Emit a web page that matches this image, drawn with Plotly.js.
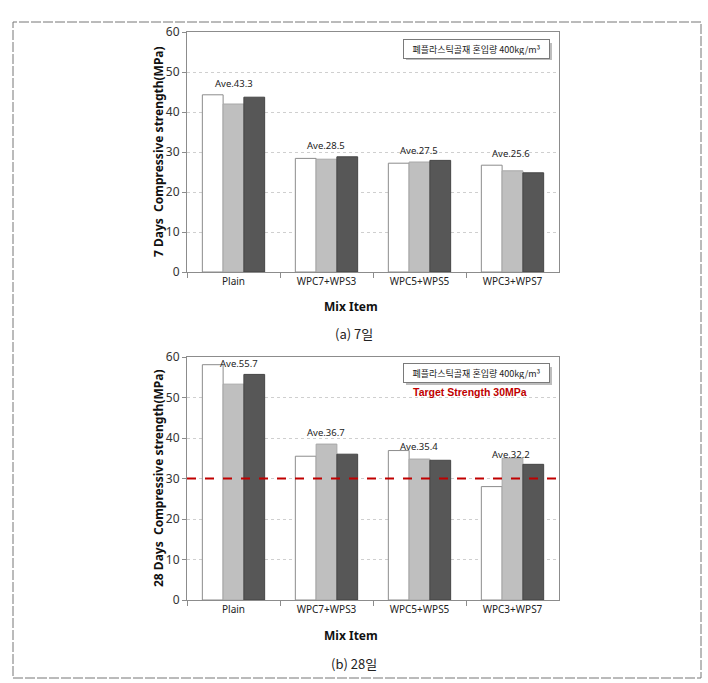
<!DOCTYPE html>
<html>
<head>
<meta charset="utf-8">
<script src="https://cdn.plot.ly/plotly-3.0.1.min.js"></script>
<style>html,body{margin:0;padding:0;background:#fff;}#chart{width:708px;height:683px;}</style>
</head>
<body>
<div id="chart"></div>
<script>
// ---- data ----
const categories = ["Plain", "WPC7+WPS3", "WPC5+WPS5", "WPC3+WPS7"];
const day7_s1 = [44.3, 28.4, 27.2, 26.7];
const day7_s2 = [42.0, 28.2, 27.5, 25.3];
const day7_s3 = [43.7, 28.8, 27.9, 24.8];
const day28_s1 = [58.1, 35.5, 36.9, 28.0];
const day28_s2 = [53.3, 38.5, 34.8, 35.0];
const day28_s3 = [55.7, 36.0, 34.5, 33.5];
const avg7 = ["43.3", "28.5", "27.5", "25.6"];
const avg28 = ["55.7", "36.7", "35.4", "32.2"];
const targetStrength = 30;
const yTicks = [0, 10, 20, 30, 40, 50, 60];
const legendText = "폐플라스틱골재 혼입량 400kg/m³";

// ---- layout helpers ----
const W = 708, H = 683;
const px = x => x / W;
const py = y => 1 - y / H;
const font = "Noto Sans, Noto Sans CJK KR, sans-serif";
const colors = ["#ffffff", "#bfbfbf", "#575757"];
const lineColors = ["#8c8c8c", "#a8a8a8", "#454545"];

function barTraces(series, xa, ya) {
  return series.map((vals, i) => ({
    type: "bar", x: categories, y: vals, xaxis: xa, yaxis: ya,
    marker: {color: colors[i], line: {color: lineColors[i], width: 1}},
    hoverinfo: "skip", showlegend: false
  }));
}

const traces = [
  ...barTraces([day7_s1, day7_s2, day7_s3], "x", "y"),
  ...barTraces([day28_s1, day28_s2, day28_s3], "x2", "y2")
];

const xAxisBase = {
  type: "category", showgrid: false, showline: true, linecolor: "#8c8c8c", linewidth: 1, mirror: true,
  ticks: "outside", tickson: "boundaries", ticklen: 5, tickcolor: "#8c8c8c",
  tickfont: {family: font, size: 10, color: "#222"}, fixedrange: true
};
const yAxisBase = {
  range: [0, 60], tickvals: yTicks, showline: true, linecolor: "#8c8c8c", linewidth: 1, mirror: true,
  ticks: "outside", ticklen: 4, tickcolor: "#8c8c8c",
  showgrid: true, gridcolor: "#cfcfcf", griddash: "dot", gridwidth: 1, zeroline: false,
  tickfont: {family: font, size: 12, color: "#333"}, fixedrange: true
};

// label offsets (pixels) for the "Ave." annotations
const aveShift7 = [[0, 3], [-1, 3], [-1, 1], [-2, 3]];
const aveShift28 = [[5, -7], [-1, 3], [-1, -4], [-2, -5]];

const annotations = [];
function aveLabels(avgs, groups, xa, ya, shifts) {
  avgs.forEach((a, i) => {
    const top = Math.max(...groups.map(g => g[i]));
    annotations.push({
      x: categories[i], y: top, xref: xa, yref: ya, text: "Ave." + a, showarrow: false,
      xanchor: "center", yanchor: "bottom", xshift: shifts[i][0], yshift: shifts[i][1],
      font: {family: font, size: 9.5, color: "#222"}
    });
  });
}
aveLabels(avg7, [day7_s1, day7_s2, day7_s3], "x", "y", aveShift7);
aveLabels(avg28, [day28_s1, day28_s2, day28_s3], "x2", "y2", aveShift28);

function paperText(x, y, text, fontObj, extra) {
  annotations.push(Object.assign({
    xref: "paper", yref: "paper", x: px(x), y: py(y), text: text, showarrow: false,
    xanchor: "center", yanchor: "middle", font: fontObj
  }, extra || {}));
}

// legend-like boxes
[49, 373].forEach(cy => {
  paperText(476, cy, legendText, {family: "Noto Sans CJK KR, sans-serif", size: 9, color: "#222"},
    {bgcolor: "#fff", bordercolor: "#7a7a7a", borderwidth: 1, borderpad: 3, width: 139, height: 12});
});
paperText(470, 392, "<b>Target Strength 30MPa</b>",
  {family: "Liberation Sans Narrow, Liberation Sans, sans-serif", size: 10.5, color: "#c00000"});

// axis titles and captions
const boldFont = {family: font, size: 12, color: "#111"};
paperText(158, 152, "<b>7 Days  Compressive strength(MPa)</b>", boldFont, {textangle: -90});
paperText(158, 478, "<b>28 Days  Compressive strength(MPa)</b>", boldFont, {textangle: -90});
paperText(351, 306, "<b>Mix Item</b>", boldFont);
paperText(351, 635, "<b>Mix Item</b>", boldFont);
paperText(354, 333, "(a) 7일", {family: "Noto Sans CJK KR, sans-serif", size: 13, color: "#222"});
paperText(354, 663, "(b) 28일", {family: "Noto Sans CJK KR, sans-serif", size: 13, color: "#222"});

const shapes = [
  // box shadows
  {type: "rect", xref: "paper", yref: "paper", x0: px(406), x1: px(552), y0: py(60), y1: py(43), fillcolor: "#bdbdbd", line: {width: 0}},
  {type: "rect", xref: "paper", yref: "paper", x0: px(406), x1: px(552), y0: py(385), y1: py(367), fillcolor: "#bdbdbd", line: {width: 0}},
  // target line
  {type: "line", xref: "paper", yref: "y2", x0: px(187), x1: px(563), y0: targetStrength, y1: targetStrength,
   line: {color: "#c00000", width: 2, dash: "dash"}},
  // outer frame
  {type: "rect", xref: "paper", yref: "paper", x0: px(13), x1: px(701), y0: py(678), y1: py(22),
   line: {color: "#777", width: 1, dash: "10px,2px"}}
];

const layout = {
  width: W, height: H, margin: {l: 0, r: 0, t: 0, b: 0},
  paper_bgcolor: "#fff", plot_bgcolor: "#fff",
  barmode: "group", bargap: 0.33, bargroupgap: 0,
  xaxis: Object.assign({}, xAxisBase, {domain: [px(187), px(559)], anchor: "y"}),
  yaxis: Object.assign({}, yAxisBase, {domain: [py(272), py(32)], anchor: "x"}),
  xaxis2: Object.assign({}, xAxisBase, {domain: [px(187), px(559)], anchor: "y2"}),
  yaxis2: Object.assign({}, yAxisBase, {domain: [py(600), py(357)], anchor: "x2"}),
  annotations: annotations, shapes: shapes, showlegend: false
};

Plotly.newPlot("chart", traces, layout, {displayModeBar: false, staticPlot: true});
</script>
</body>
</html>
